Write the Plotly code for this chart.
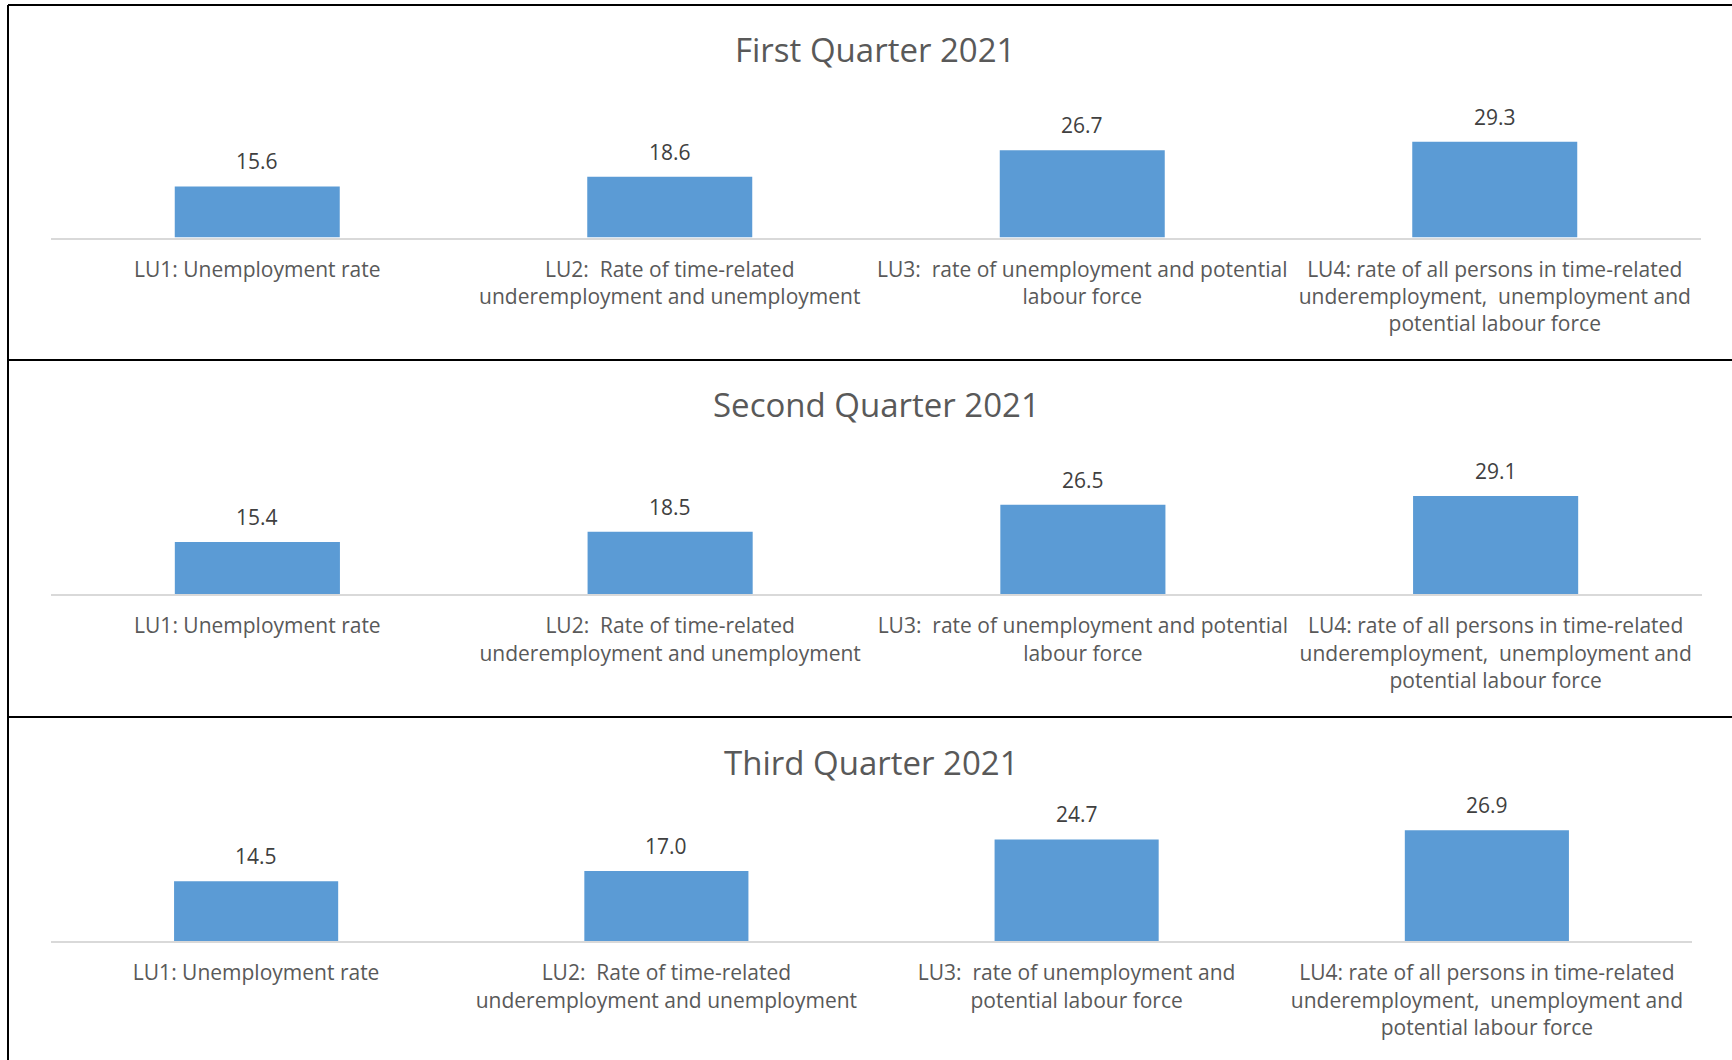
import plotly.graph_objects as go

# LU indicators, in the order shown on each panel
cats_q1q2 = [
    "LU1: Unemployment rate",
    "LU2:\u00a0 Rate of time-related<br>underemployment and unemployment",
    "LU3:\u00a0 rate of unemployment and potential<br>labour force",
    "LU4: rate of all persons in time-related<br>underemployment,\u00a0 unemployment and<br>potential labour force",
]
cats_q3 = [
    "LU1: Unemployment rate",
    "LU2:\u00a0 Rate of time-related<br>underemployment and unemployment",
    "LU3:\u00a0 rate of unemployment and<br>potential labour force",
    "LU4: rate of all persons in time-related<br>underemployment,\u00a0 unemployment and<br>potential labour force",
]

q1_2021 = [15.6, 18.6, 26.7, 29.3]
q2_2021 = [15.4, 18.5, 26.5, 29.1]
q3_2021 = [14.5, 17.0, 24.7, 26.9]

titles = ["First Quarter 2021", "Second Quarter 2021", "Third Quarter 2021"]

W, H = 1732, 1060
BAR = "#5B9BD5"
FONT = "Open Sans"

# pixel layout of each panel: (x0, x1, y_axis, y_top, title_x, title_y)
panels = [
    (51, 1701, 237.5, 123, 875, 50),
    (51, 1702, 594, 476, 876, 404),
    (51, 1692, 941, 797, 871, 762),
]

fig = go.Figure()
annotations = []
series = [(cats_q1q2, q1_2021), (cats_q1q2, q2_2021), (cats_q3, q3_2021)]

for i, ((cats, vals), (x0, x1, ya, yt, tx, ty)) in enumerate(zip(series, panels), start=1):
    xa = "x" if i == 1 else f"x{i}"
    ya_ref = "y" if i == 1 else f"y{i}"
    fig.add_trace(go.Bar(x=cats, y=vals, marker_color=BAR, marker_line_width=0,
                         xaxis=xa, yaxis=ya_ref, showlegend=False, hoverinfo="skip"))
    fig.update_layout({
        f"xaxis{'' if i == 1 else i}": dict(
            domain=[x0 / W, x1 / W], anchor=ya_ref, showline=True, linecolor="#D9D9D9",
            linewidth=2, showgrid=False, ticks="", ticklabelstandoff=12,
            tickfont=dict(family=FONT, size=21, color="#595959"), fixedrange=True),
        f"yaxis{'' if i == 1 else i}": dict(
            domain=[1 - ya / H, 1 - yt / H], anchor=xa, range=[0, 35], visible=False,
            fixedrange=True),
    })
    for c, v in zip(cats, vals):
        annotations.append(dict(x=c, y=v, xref=xa, yref=ya_ref, text=f"{v:.1f}",
                                showarrow=False, yanchor="middle", yshift=25,
                                font=dict(family=FONT, size=21, color="#404040")))
    annotations.append(dict(x=tx / W, y=1 - ty / H, xref="paper", yref="paper",
                            text=titles[i - 1], showarrow=False, xanchor="center",
                            yanchor="middle", font=dict(family=FONT, size=33, color="#595959")))

# frame lines around the panels
lines = [
    dict(x0=8 / W, x1=1, y0=1 - 5 / H, y1=1 - 5 / H),
    dict(x0=8 / W, x1=1, y0=1 - 360 / H, y1=1 - 360 / H),
    dict(x0=8 / W, x1=1, y0=1 - 717 / H, y1=1 - 717 / H),
    dict(x0=8 / W, x1=8 / W, y0=0, y1=1 - 5 / H),
]
shapes = [dict(type="line", xref="paper", yref="paper", line=dict(color="black", width=2), **l)
          for l in lines]

fig.update_layout(
    width=W, height=H,
    margin=dict(t=0, b=0, l=0, r=0),
    paper_bgcolor="white", plot_bgcolor="white",
    bargap=0.6,
    annotations=annotations,
    shapes=shapes,
)

# drop the default page margin so the figure sits at the window corner
fig.write_html("out.html", config={"displayModeBar": False},
               post_script="document.body.style.margin='0';")
